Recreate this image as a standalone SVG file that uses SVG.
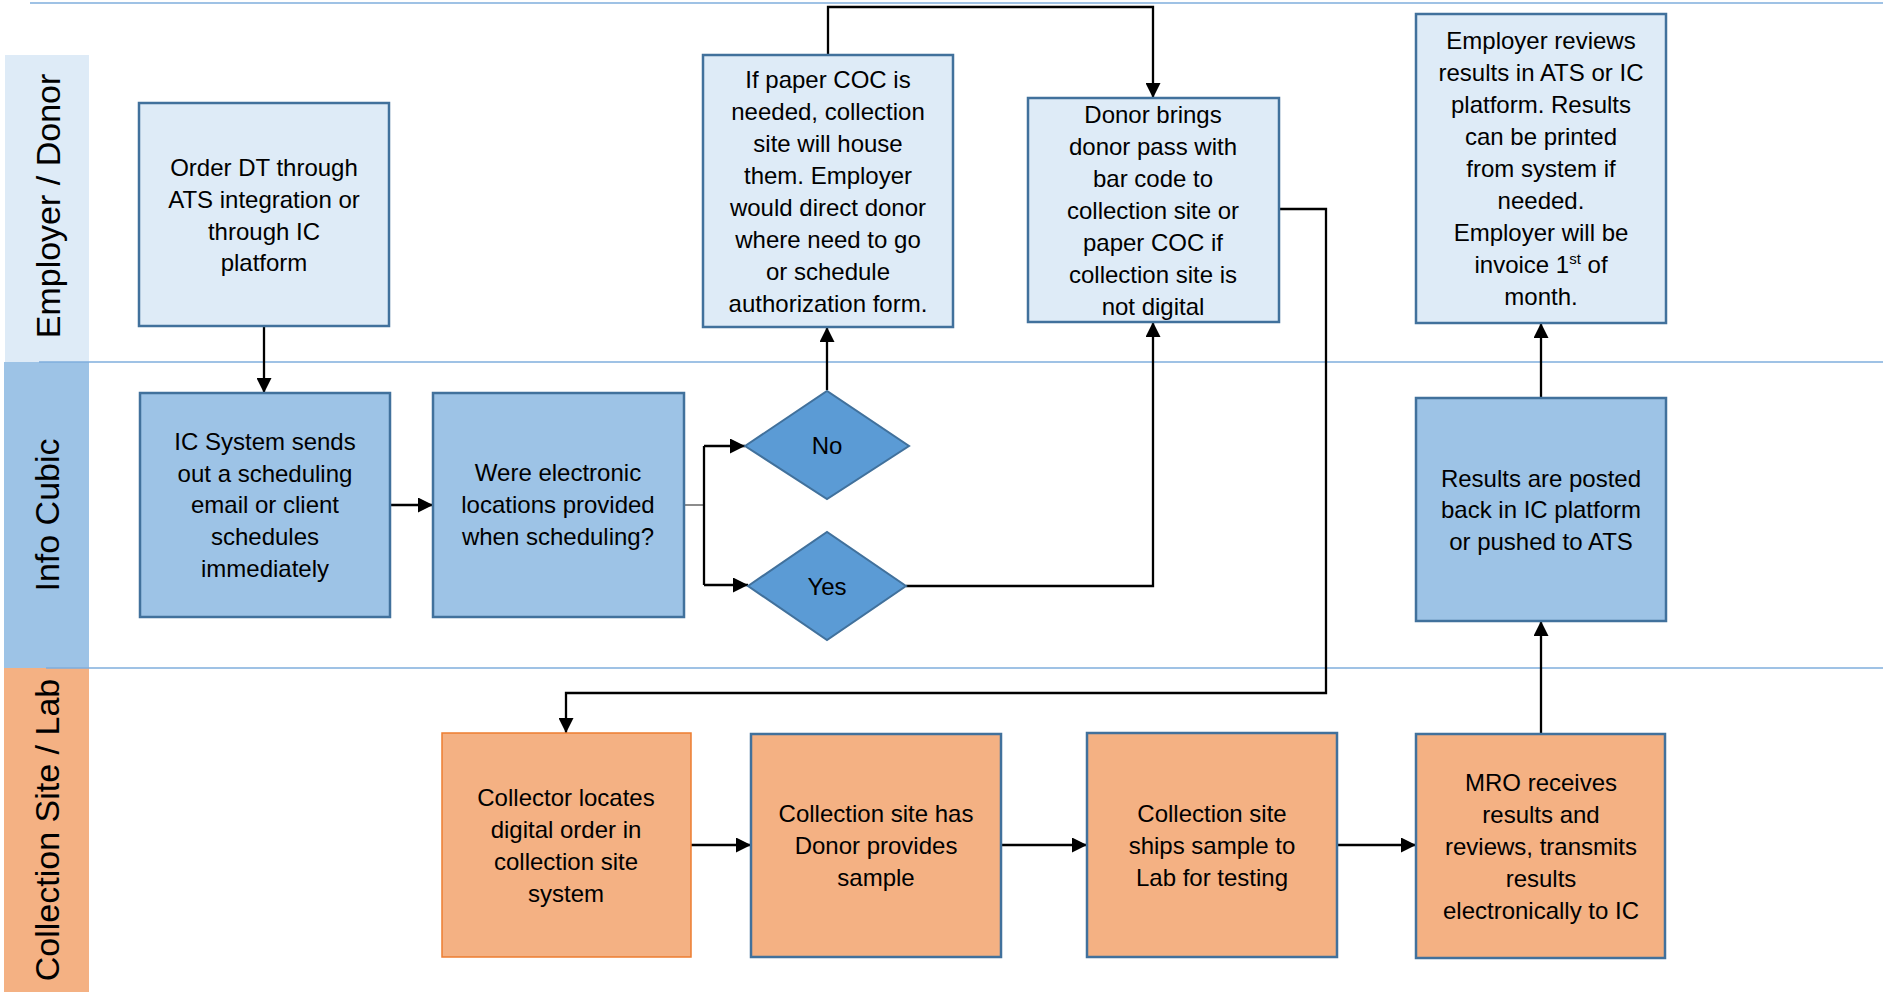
<svg xmlns="http://www.w3.org/2000/svg" width="1883" height="995" viewBox="0 0 1883 995">
<style>
text{font-family:"Liberation Sans",Arial,sans-serif;fill:#000;}
.t{font-size:24px;text-anchor:middle;}
.lane{font-size:34px;text-anchor:middle;}
.light{fill:#DEEBF7;stroke:#41719C;stroke-width:2.5;}
.mid{fill:#9DC3E6;stroke:#41719C;stroke-width:2.5;}
.org{fill:#F4B183;stroke:#41719C;stroke-width:2.5;}
.org2{fill:#F4B183;stroke:#ED7D31;stroke-width:1.5;}
.dia{fill:#5B9BD5;stroke:#41719C;stroke-width:2;}
.sep{stroke:#7FAEDD;stroke-width:1.5;fill:none;}
.c{stroke:#000;stroke-width:2.3;fill:none;}
.thin{stroke:#404040;stroke-width:1.2;fill:none;}
</style>
<defs>
<marker id="arr" viewBox="0 0 10 10" refX="10" refY="5" markerWidth="15" markerHeight="15" markerUnits="userSpaceOnUse" orient="auto">
<path d="M0,0 L10,5 L0,10 z" fill="#000"/>
</marker>
</defs>
<rect width="1883" height="995" fill="#fff"/>
<g id="lanes">
<rect x="5" y="55" width="84" height="307" fill="#DEEBF7"/>
<rect x="4" y="362" width="85" height="306" fill="#9DC3E6"/>
<rect x="4" y="668" width="85" height="324" fill="#F4B183"/>
<line class="sep" x1="30" y1="3" x2="1883" y2="3"/>
<line class="sep" x1="39" y1="362" x2="1883" y2="362"/>
<line class="sep" x1="46" y1="668" x2="1883" y2="668"/>
<text class="lane" transform="translate(60,206) rotate(-90)">Employer / Donor</text>
<text class="lane" transform="translate(59,515) rotate(-90)">Info Cubic</text>
<text class="lane" transform="translate(59,830) rotate(-90)">Collection Site / Lab</text>
</g>
<g id="connectors">
<path class="c" d="M264,327 V393" marker-end="url(#arr)"/>
<path class="c" d="M390,505 H433" marker-end="url(#arr)"/>
<path class="thin" d="M684,505 H704"/>
<path class="c" d="M704,446 V585"/>
<path class="c" d="M704,446 H745" marker-end="url(#arr)"/>
<path class="c" d="M704,585 H748" marker-end="url(#arr)"/>
<path class="c" d="M827,390 V327" marker-end="url(#arr)"/>
<path class="c" d="M828,55 V7 H1153 V98" marker-end="url(#arr)"/>
<path class="c" d="M906,586 H1153 V322" marker-end="url(#arr)"/>
<path class="c" d="M1279,209 H1326 V693 H566 V733" marker-end="url(#arr)"/>
<path class="c" d="M691,845 H751" marker-end="url(#arr)"/>
<path class="c" d="M1001,845 H1087" marker-end="url(#arr)"/>
<path class="c" d="M1337,845 H1416" marker-end="url(#arr)"/>
<path class="c" d="M1541,734 V621" marker-end="url(#arr)"/>
<path class="c" d="M1541,398 V323" marker-end="url(#arr)"/>
</g>
<g id="order">
<rect class="light" x="139" y="103" width="250" height="223"/>
<text class="t" x="264" y="176">Order DT through</text>
<text class="t" x="264" y="208">ATS integration or</text>
<text class="t" x="264" y="240">through IC</text>
<text class="t" x="264" y="271">platform</text>
</g>
<g id="icsystem">
<rect class="mid" x="140" y="393" width="250" height="224"/>
<text class="t" x="265" y="450">IC System sends</text>
<text class="t" x="265" y="482">out a scheduling</text>
<text class="t" x="265" y="513">email or client</text>
<text class="t" x="265" y="545">schedules</text>
<text class="t" x="265" y="577">immediately</text>
</g>
<g id="were">
<rect class="mid" x="433" y="393" width="251" height="224"/>
<text class="t" x="558" y="481">Were electronic</text>
<text class="t" x="558" y="513">locations provided</text>
<text class="t" x="558" y="545">when scheduling?</text>
</g>
<g id="no">
<polygon class="dia" points="745,446 827,391 909,446 827,499"/>
<text class="t" x="827" y="454">No</text>
</g>
<g id="yes">
<polygon class="dia" points="748,586 827,532 906,586 827,640"/>
<text class="t" x="827" y="595">Yes</text>
</g>
<g id="paper">
<rect class="light" x="703" y="55" width="250" height="272"/>
<text class="t" x="828" y="88">If paper COC is</text>
<text class="t" x="828" y="120">needed, collection</text>
<text class="t" x="828" y="152">site will house</text>
<text class="t" x="828" y="184">them. Employer</text>
<text class="t" x="828" y="216">would direct donor</text>
<text class="t" x="828" y="248">where need to go</text>
<text class="t" x="828" y="280">or schedule</text>
<text class="t" x="828" y="312">authorization form.</text>
</g>
<g id="donor">
<rect class="light" x="1028" y="98" width="251" height="224"/>
<text class="t" x="1153" y="123">Donor brings</text>
<text class="t" x="1153" y="155">donor pass with</text>
<text class="t" x="1153" y="187">bar code to</text>
<text class="t" x="1153" y="219">collection site or</text>
<text class="t" x="1153" y="251">paper COC if</text>
<text class="t" x="1153" y="283">collection site is</text>
<text class="t" x="1153" y="315">not digital</text>
</g>
<g id="employer">
<rect class="light" x="1416" y="14" width="250" height="309"/>
<text class="t" x="1541" y="49">Employer reviews</text>
<text class="t" x="1541" y="81">results in ATS or IC</text>
<text class="t" x="1541" y="113">platform. Results</text>
<text class="t" x="1541" y="145">can be printed</text>
<text class="t" x="1541" y="177">from system if</text>
<text class="t" x="1541" y="209">needed.</text>
<text class="t" x="1541" y="241">Employer will be</text>
<text class="t" x="1541" y="273">invoice 1<tspan font-size="15" dy="-9">st</tspan><tspan dy="9"> of</tspan></text>
<text class="t" x="1541" y="305">month.</text>
</g>
<g id="results">
<rect class="mid" x="1416" y="398" width="250" height="223"/>
<text class="t" x="1541" y="487">Results are posted</text>
<text class="t" x="1541" y="518">back in IC platform</text>
<text class="t" x="1541" y="550">or pushed to ATS</text>
</g>
<g id="collector">
<rect class="org2" x="442" y="733" width="249" height="224"/>
<text class="t" x="566" y="806">Collector locates</text>
<text class="t" x="566" y="838">digital order in</text>
<text class="t" x="566" y="870">collection site</text>
<text class="t" x="566" y="902">system</text>
</g>
<g id="hassample">
<rect class="org" x="751" y="734" width="250" height="223"/>
<text class="t" x="876" y="822">Collection site has</text>
<text class="t" x="876" y="854">Donor provides</text>
<text class="t" x="876" y="886">sample</text>
</g>
<g id="ships">
<rect class="org" x="1087" y="733" width="250" height="224"/>
<text class="t" x="1212" y="822">Collection site</text>
<text class="t" x="1212" y="854">ships sample to</text>
<text class="t" x="1212" y="886">Lab for testing</text>
</g>
<g id="mro">
<rect class="org" x="1416" y="734" width="249" height="224"/>
<text class="t" x="1541" y="791">MRO receives</text>
<text class="t" x="1541" y="823">results and</text>
<text class="t" x="1541" y="855">reviews, transmits</text>
<text class="t" x="1541" y="887">results</text>
<text class="t" x="1541" y="919">electronically to IC</text>
</g>
</svg>
